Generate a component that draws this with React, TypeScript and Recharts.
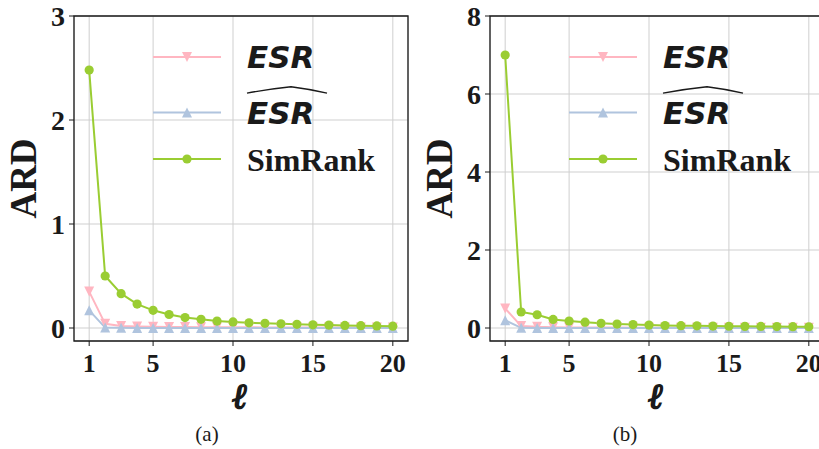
import React from 'react';
import { LineChart, Line, XAxis, YAxis, CartesianGrid, Legend, ReferenceArea } from 'recharts';

// walk length l on the x axis
const ELL = [1, 2, 3, 4, 5, 6, 7, 8, 9, 10, 11, 12, 13, 14, 15, 16, 17, 18, 19, 20];
const X_TICKS = [1, 5, 10, 15, 20];

// panel (a)
const ESR_A = [0.35, 0.04, 0.02, 0.015, 0.012, 0.01, 0.009, 0.008, 0.008, 0.007, 0.007, 0.006, 0.006, 0.006, 0.005, 0.005, 0.005, 0.005, 0.005, 0.005];
const ESR_HAT_A = [0.17, 0.004, 0.002, 0.001, 0.001, 0.001, 0.001, 0.001, 0.001, 0.001, 0.001, 0.001, 0.001, 0.001, 0.001, 0.001, 0.001, 0.001, 0.001, 0.001];
const SIMRANK_A = [2.48, 0.5, 0.33, 0.23, 0.17, 0.13, 0.1, 0.083, 0.067, 0.058, 0.05, 0.045, 0.04, 0.035, 0.031, 0.028, 0.025, 0.022, 0.02, 0.018];
const Y_TICKS_A = [0, 1, 2, 3];

// panel (b)
const ESR_B = [0.5, 0.05, 0.03, 0.02, 0.015, 0.012, 0.01, 0.01, 0.009, 0.008, 0.008, 0.007, 0.007, 0.006, 0.006, 0.006, 0.005, 0.005, 0.005, 0.005];
const ESR_HAT_B = [0.2, 0.005, 0.002, 0.001, 0.001, 0.001, 0.001, 0.001, 0.001, 0.001, 0.001, 0.001, 0.001, 0.001, 0.001, 0.001, 0.001, 0.001, 0.001, 0.001];
const SIMRANK_B = [7.0, 0.41, 0.34, 0.22, 0.18, 0.15, 0.12, 0.1, 0.087, 0.075, 0.065, 0.06, 0.055, 0.05, 0.045, 0.042, 0.04, 0.037, 0.035, 0.033];
const Y_TICKS_B = [0, 2, 4, 6, 8];

const X_DOMAIN: [number, number] = [0.05, 20.95];

const PINK = '#ffb6c1';
const BLUE = '#b0c4de';
const GREEN = '#9acd32';
const INK = '#1a1a1a';
const GRID = '#cfcfcf';
const SERIF = '"Liberation Serif", "Times New Roman", serif';
const SANS = '"DejaVu Sans", sans-serif';

const buildRows = (esr: number[], hat: number[], sim: number[]) =>
  ELL.map((l, i) => ({ l, esr: esr[i], esrHat: hat[i], sim: sim[i] }));

const DATA_A = buildRows(ESR_A, ESR_HAT_A, SIMRANK_A);
const DATA_B = buildRows(ESR_B, ESR_HAT_B, SIMRANK_B);

type Kind = 'down' | 'up' | 'circle';

const marker = (kind: Kind, cx: number, cy: number, color: string, key?: React.Key) => {
  if (kind === 'circle') return <circle key={key} cx={cx} cy={cy} r={4.6} fill={color} />;
  const s = 5;
  const d = kind === 'down'
    ? `M${cx - s},${cy - s} L${cx + s},${cy - s} L${cx},${cy + s} Z`
    : `M${cx - s},${cy + s} L${cx + s},${cy + s} L${cx},${cy - s} Z`;
  return <path key={key} d={d} fill={color} />;
};

const dotFor = (kind: Kind, color: string) => (props: any) => {
  const { cx, cy, index } = props;
  if (cx == null || cy == null) return <g key={index} />;
  return marker(kind, cx, cy, color, index);
};

const KINDS: Record<string, Kind> = { esr: 'down', esrHat: 'up', sim: 'circle' };
const ROW_Y = [20, 75.6, 122];

// legend: no frame, grid shows through
const LegendBox = ({ payload }: any) => (
  <svg width={270} height={145} style={{ overflow: 'visible', display: 'block' }}>
    {(payload || []).map((p: any, i: number) => {
      const y = ROW_Y[i];
      const kind = KINDS[p.dataKey as string];
      return (
        <g key={p.dataKey}>
          <line x1={0} x2={68} y1={y} y2={y} stroke={p.color} strokeWidth={2} />
          {marker(kind, 34, y, p.color)}
          {kind === 'circle' ? (
            <text x={94} y={y + 11.5} fontFamily={SERIF} fontWeight="bold" fontSize={32} fill={INK}>
              {p.value}
            </text>
          ) : (
            <text x={94} y={y + 11.3} fontFamily={SANS} fontWeight="bold" fontStyle="italic" fontSize={31} fill={INK}>
              {p.value}
            </text>
          )}
          {kind === 'up' && (
            <path d={`M94,${y - 19.5} Q116,${y - 23.5} 138,${y - 25.8} Q156,${y - 23.5} 174,${y - 19.5}`}
              fill="none" stroke={INK} strokeWidth={1.4} />
          )}
        </g>
      );
    })}
  </svg>
);

const YTitle = (props: any) => {
  const vb = props.viewBox || { x: 0, y: 16, width: 74, height: 325 };
  const cx = vb.x + 23;
  const cy = vb.y + vb.height / 2;
  return (
    <text x={cx} y={cy} transform={`rotate(-90, ${cx}, ${cy})`} textAnchor="middle" dominantBaseline="central"
      fontFamily={SERIF} fontWeight="bold" fontSize={37} fill={INK}>
      ARD
    </text>
  );
};

const XTitle = (props: any) => {
  const vb = props.viewBox || { x: 74, y: 341, width: 334, height: 108 };
  return (
    <text x={vb.x + vb.width / 2 - 1} y={vb.y + 67} textAnchor="middle"
      fontFamily='"DejaVu Serif", serif' fontWeight="bold" fontStyle="italic" fontSize={35}
      fill={INK} stroke={INK} strokeWidth={1.6}>
      ℓ
    </text>
  );
};

interface PanelProps {
  data: typeof DATA_A;
  yDomain: [number, number];
  yTicks: number[];
  left: number;
}

const Panel: React.FC<PanelProps> = ({ data, yDomain, yTicks, left }) => (
  <div style={{ position: 'absolute', left, top: 0 }}>
    <LineChart width={420} height={449} data={data} margin={{ top: 16, right: 12, bottom: 0, left: 0 }}>
      <CartesianGrid stroke={GRID} strokeWidth={1} />
      <XAxis dataKey="l" type="number" domain={X_DOMAIN} ticks={X_TICKS} interval={0} allowDataOverflow
        height={108} tickSize={5} tickMargin={8} axisLine={false} tickLine={{ stroke: INK }}
        tick={{ fontFamily: SERIF, fontWeight: 'bold', fontSize: 26, fill: INK }}
        label={<XTitle />} />
      <YAxis type="number" domain={yDomain} ticks={yTicks} interval={0} allowDataOverflow
        width={74} tickSize={5} tickMargin={4} axisLine={false} tickLine={{ stroke: INK }}
        tick={{ fontFamily: SERIF, fontWeight: 'bold', fontSize: 28, fill: INK }}
        label={<YTitle />} />
      <Line dataKey="esr" name="ESR" type="linear" stroke={PINK} strokeWidth={2}
        dot={dotFor('down', PINK)} activeDot={false} isAnimationActive={false} />
      <Line dataKey="esrHat" name="ESR" type="linear" stroke={BLUE} strokeWidth={2}
        dot={dotFor('up', BLUE)} activeDot={false} isAnimationActive={false} />
      <Line dataKey="sim" name="SimRank" type="linear" stroke={GREEN} strokeWidth={2}
        dot={dotFor('circle', GREEN)} activeDot={false} isAnimationActive={false} />
      <ReferenceArea x1={X_DOMAIN[0]} x2={X_DOMAIN[1]} y1={yDomain[0]} y2={yDomain[1]}
        fill="none" fillOpacity={0} stroke={INK} strokeWidth={1.3} ifOverflow="visible" />
      <Legend layout="vertical" align="center" verticalAlign="middle" content={<LegendBox />}
        wrapperStyle={{ left: 153, top: 36.7, width: 270, height: 145 }} />
    </LineChart>
  </div>
);

export default function App() {
  return (
    <div style={{ position: 'absolute', left: 0, top: 0, width: 819, height: 449, overflow: 'hidden', background: '#fff' }}>
      <Panel data={DATA_A} yDomain={[-0.125, 3]} yTicks={Y_TICKS_A} left={0} />
      <Panel data={DATA_B} yDomain={[-0.333, 8]} yTicks={Y_TICKS_B} left={416} />
      <svg width={819} height={449} style={{ position: 'absolute', left: 0, top: 0, pointerEvents: 'none' }}>
        <text x={207} y={441} textAnchor="middle" fontFamily={SERIF} fontSize={21} fill={INK}>(a)</text>
        <text x={625} y={441} textAnchor="middle" fontFamily={SERIF} fontSize={21} fill={INK}>(b)</text>
      </svg>
    </div>
  );
}
